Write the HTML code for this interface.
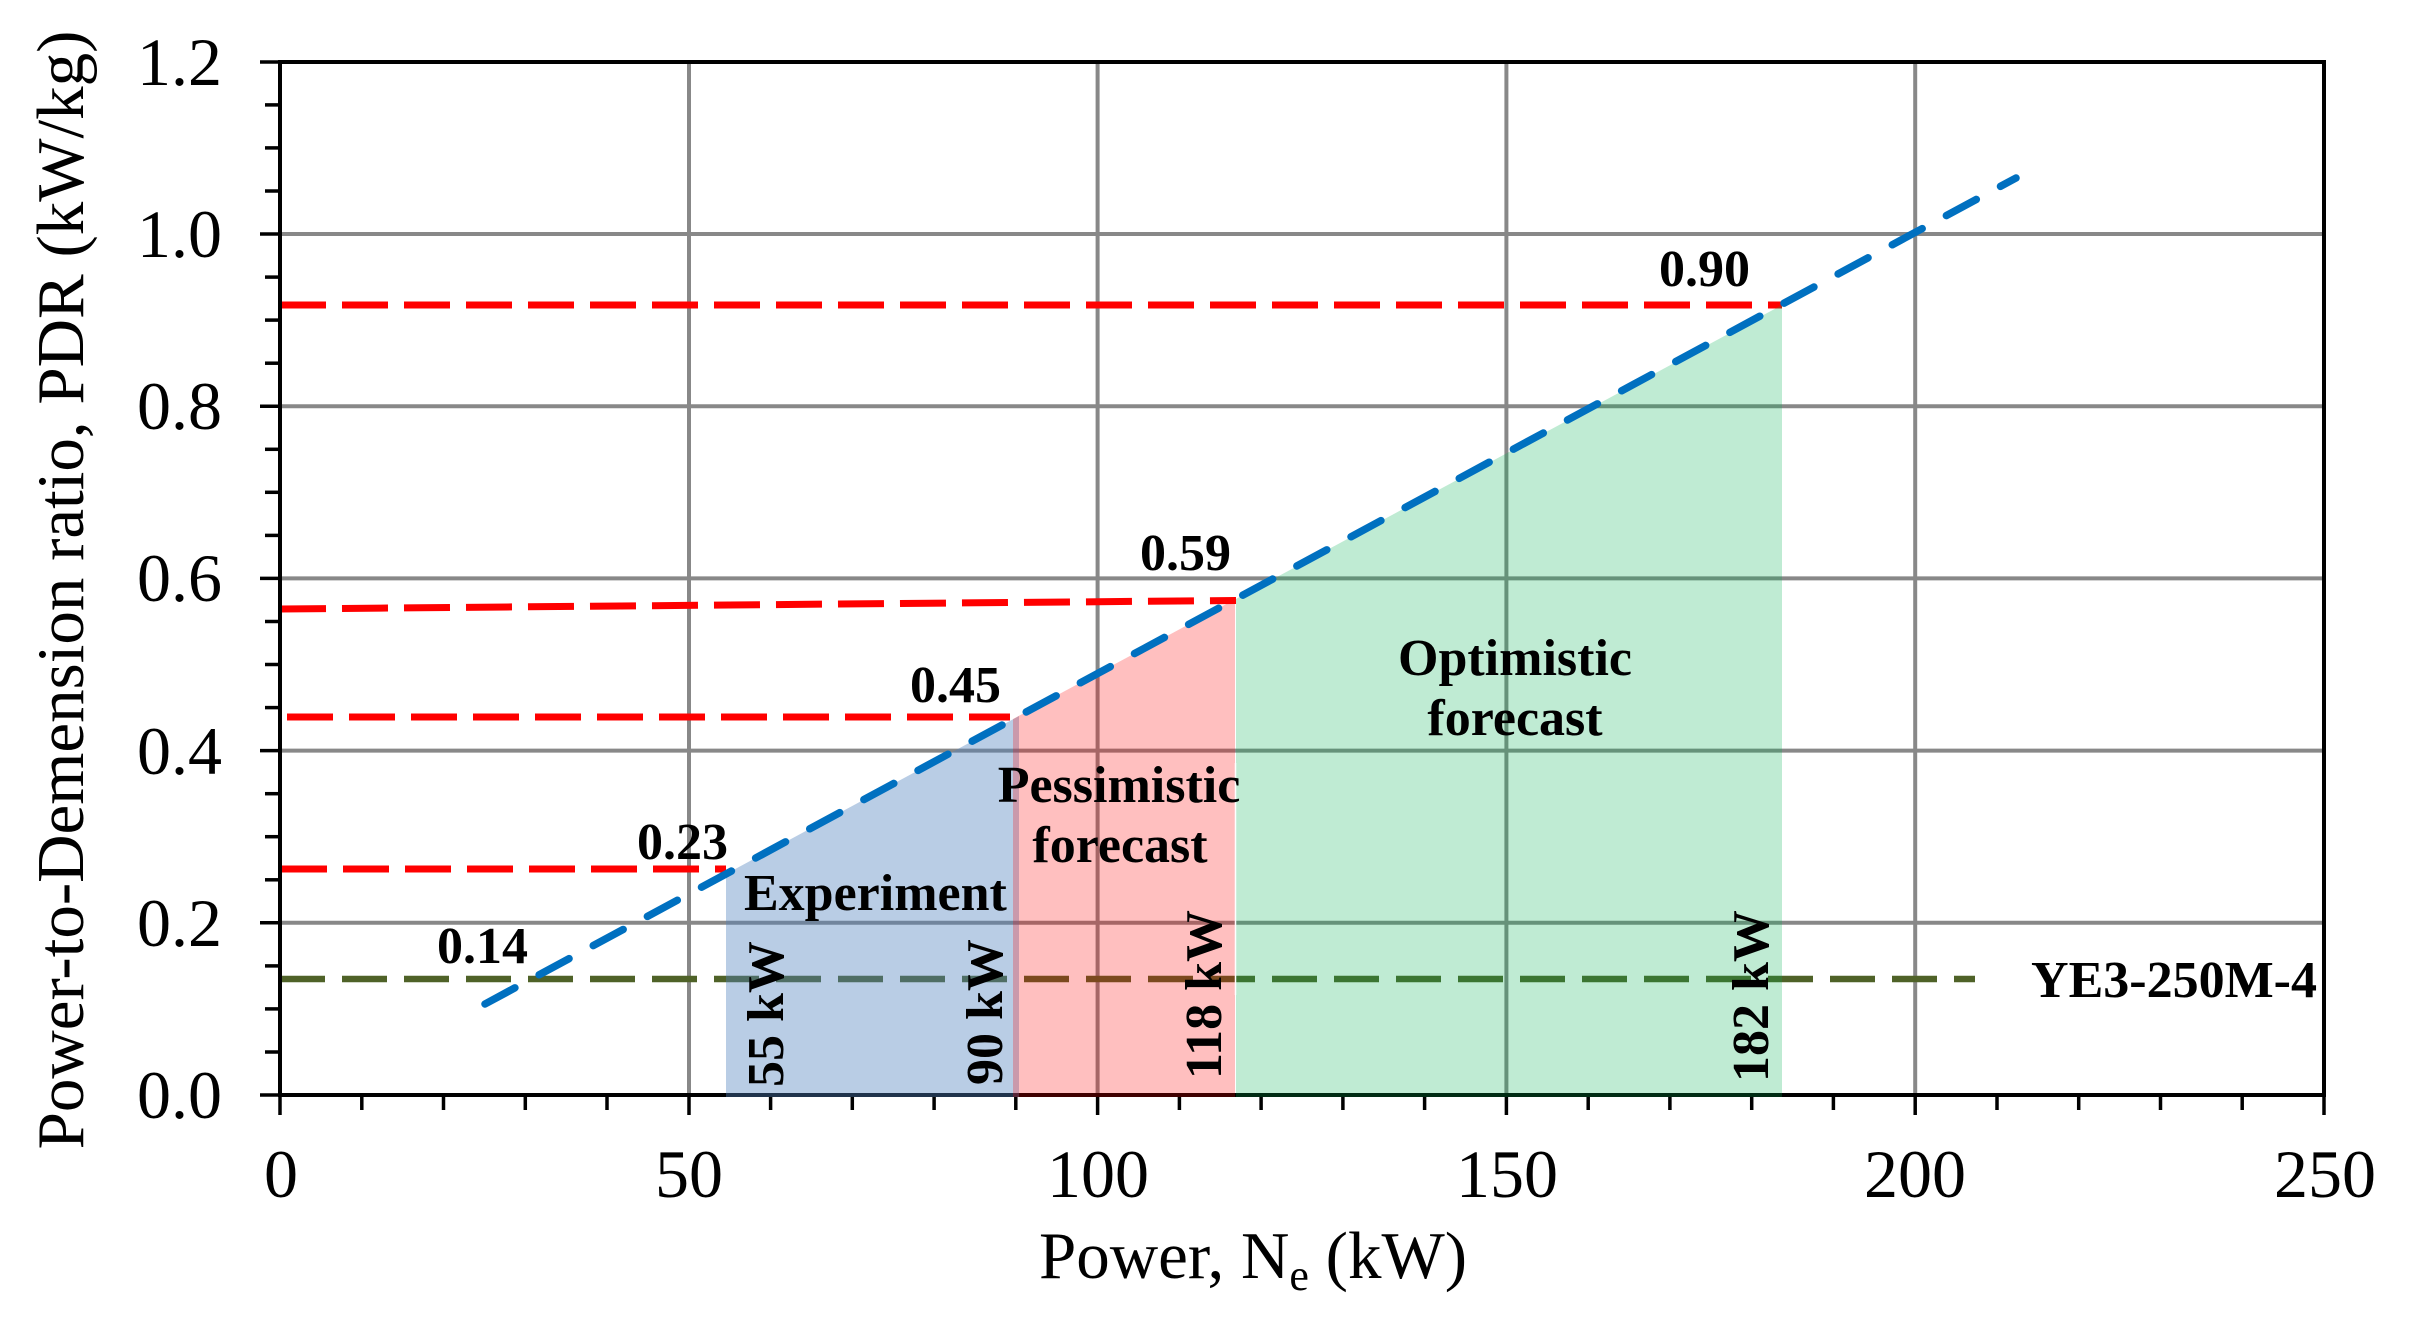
<!DOCTYPE html>
<html>
<head>
<meta charset="utf-8">
<style>
  html, body { margin: 0; padding: 0; background: #ffffff; }
  svg { display: block; }
  .tick { font-family: "Liberation Serif", "Times New Roman", serif; font-size: 68px; fill: #000; }
  .ann { font-family: "Liberation Serif", "Times New Roman", serif; font-size: 52px; font-weight: bold; fill: #000; }
  .title { font-family: "Liberation Serif", "Times New Roman", serif; font-size: 67px; fill: #000; }
</style>
</head>
<body>
<svg width="2411" height="1323" viewBox="0 0 2411 1323" xmlns="http://www.w3.org/2000/svg">
  <rect x="0" y="0" width="2411" height="1323" fill="#ffffff"/>

  <!-- gridlines -->
  <g stroke="#888888" stroke-width="4">
    <line x1="689" y1="62" x2="689" y2="1095"/>
    <line x1="1097.6" y1="62" x2="1097.6" y2="1095"/>
    <line x1="1506.4" y1="62" x2="1506.4" y2="1095"/>
    <line x1="1915.2" y1="62" x2="1915.2" y2="1095"/>
    <line x1="280" y1="922.8" x2="2324" y2="922.8"/>
    <line x1="280" y1="750.6" x2="2324" y2="750.6"/>
    <line x1="280" y1="578.4" x2="2324" y2="578.4"/>
    <line x1="280" y1="406.2" x2="2324" y2="406.2"/>
    <line x1="280" y1="234" x2="2324" y2="234"/>
  </g>

  <!-- red dashed reference lines -->
  <g stroke="#FF0000" stroke-width="7" stroke-dasharray="46 16" fill="none">
    <line x1="280" y1="305" x2="1782" y2="305"/>
    <line x1="280" y1="609" x2="1236" y2="600.5"/>
    <line x1="287" y1="717" x2="1010" y2="717"/>
    <line x1="281" y1="869" x2="726" y2="869"/>
  </g>

  <!-- olive dashed line YE3-250M-4 -->
  <line x1="280" y1="979" x2="1975" y2="979" stroke="#4F6228" stroke-width="6.5" stroke-dasharray="45 17"/>

  <!-- axes frame -->
  <rect x="280" y="62" width="2044" height="1033" fill="none" stroke="#000" stroke-width="4"/>

  <!-- y ticks -->
  <g stroke="#000" stroke-width="3.5">
    <line x1="260" y1="1095" x2="280" y2="1095"/>
    <line x1="265" y1="1052" x2="280" y2="1052"/>
    <line x1="265" y1="1008.9" x2="280" y2="1008.9"/>
    <line x1="265" y1="965.9" x2="280" y2="965.9"/>
    <line x1="260" y1="922.8" x2="280" y2="922.8"/>
    <line x1="265" y1="879.8" x2="280" y2="879.8"/>
    <line x1="265" y1="836.7" x2="280" y2="836.7"/>
    <line x1="265" y1="793.7" x2="280" y2="793.7"/>
    <line x1="260" y1="750.6" x2="280" y2="750.6"/>
    <line x1="265" y1="707.6" x2="280" y2="707.6"/>
    <line x1="265" y1="664.5" x2="280" y2="664.5"/>
    <line x1="265" y1="621.5" x2="280" y2="621.5"/>
    <line x1="260" y1="578.4" x2="280" y2="578.4"/>
    <line x1="265" y1="535.4" x2="280" y2="535.4"/>
    <line x1="265" y1="492.3" x2="280" y2="492.3"/>
    <line x1="265" y1="449.3" x2="280" y2="449.3"/>
    <line x1="260" y1="406.2" x2="280" y2="406.2"/>
    <line x1="265" y1="363.2" x2="280" y2="363.2"/>
    <line x1="265" y1="320.1" x2="280" y2="320.1"/>
    <line x1="265" y1="277.1" x2="280" y2="277.1"/>
    <line x1="260" y1="234" x2="280" y2="234"/>
    <line x1="265" y1="191" x2="280" y2="191"/>
    <line x1="265" y1="147.9" x2="280" y2="147.9"/>
    <line x1="265" y1="104.9" x2="280" y2="104.9"/>
    <line x1="260" y1="62" x2="280" y2="62"/>
  </g>

  <!-- x ticks -->
  <g stroke="#000" stroke-width="3.5">
    <line x1="280" y1="1095" x2="280" y2="1115"/>
    <line x1="361.8" y1="1095" x2="361.8" y2="1110"/>
    <line x1="443.5" y1="1095" x2="443.5" y2="1110"/>
    <line x1="525.3" y1="1095" x2="525.3" y2="1110"/>
    <line x1="607" y1="1095" x2="607" y2="1110"/>
    <line x1="689" y1="1095" x2="689" y2="1115"/>
    <line x1="770.6" y1="1095" x2="770.6" y2="1110"/>
    <line x1="852.3" y1="1095" x2="852.3" y2="1110"/>
    <line x1="934.1" y1="1095" x2="934.1" y2="1110"/>
    <line x1="1015.8" y1="1095" x2="1015.8" y2="1110"/>
    <line x1="1097.6" y1="1095" x2="1097.6" y2="1115"/>
    <line x1="1179.4" y1="1095" x2="1179.4" y2="1110"/>
    <line x1="1261.1" y1="1095" x2="1261.1" y2="1110"/>
    <line x1="1342.9" y1="1095" x2="1342.9" y2="1110"/>
    <line x1="1424.6" y1="1095" x2="1424.6" y2="1110"/>
    <line x1="1506.4" y1="1095" x2="1506.4" y2="1115"/>
    <line x1="1588.2" y1="1095" x2="1588.2" y2="1110"/>
    <line x1="1669.9" y1="1095" x2="1669.9" y2="1110"/>
    <line x1="1751.7" y1="1095" x2="1751.7" y2="1110"/>
    <line x1="1833.4" y1="1095" x2="1833.4" y2="1110"/>
    <line x1="1915.2" y1="1095" x2="1915.2" y2="1115"/>
    <line x1="1997" y1="1095" x2="1997" y2="1110"/>
    <line x1="2078.7" y1="1095" x2="2078.7" y2="1110"/>
    <line x1="2160.5" y1="1095" x2="2160.5" y2="1110"/>
    <line x1="2242.2" y1="1095" x2="2242.2" y2="1110"/>
    <line x1="2324" y1="1095" x2="2324" y2="1115"/>
  </g>

  <!-- shaded regions (semi-transparent overlays) -->
  <polygon points="726,1097 726,874 1019,716 1019,1097" fill="rgb(79,129,189)" fill-opacity="0.4"/>
  <polygon points="1013,1097 1013,719 1235,599.4 1235,1097" fill="rgb(255,0,0)" fill-opacity="0.25"/>
  <polygon points="1236,1097 1236,599 1782,305 1782,1097" fill="rgb(0,176,80)" fill-opacity="0.25"/>
  <line x1="1235.5" y1="763" x2="1235.5" y2="995" stroke="#ffffff" stroke-width="1.5"/>

  <!-- blue trend line -->
  <line x1="485" y1="1004" x2="2016" y2="178" stroke="#0070C0" stroke-width="7.5" stroke-linecap="round" stroke-dasharray="34 27.5"/>

  <!-- y tick labels -->
  <g class="tick" text-anchor="end">
    <text x="222" y="1118">0.0</text>
    <text x="222" y="946">0.2</text>
    <text x="222" y="774">0.4</text>
    <text x="222" y="601">0.6</text>
    <text x="222" y="429">0.8</text>
    <text x="222" y="257">1.0</text>
    <text x="222" y="85">1.2</text>
  </g>

  <!-- x tick labels -->
  <g class="tick" text-anchor="middle">
    <text x="281" y="1197">0</text>
    <text x="689" y="1197">50</text>
    <text x="1098" y="1197">100</text>
    <text x="1507" y="1197">150</text>
    <text x="1915" y="1197">200</text>
    <text x="2325" y="1197">250</text>
  </g>

  <!-- axis titles -->
  <text class="title" x="1253" y="1278" text-anchor="middle">Power, N<tspan font-size="44" dy="12">e</tspan><tspan dy="-12"> (kW)</tspan></text>
  <text class="title" x="83" y="590" text-anchor="middle" transform="rotate(-90 83 590)">Power-to-Demension ratio, PDR (kW/kg)</text>

  <!-- value annotations -->
  <g class="ann">
    <text x="437" y="963">0.14</text>
    <text x="637" y="859">0.23</text>
    <text x="910" y="702">0.45</text>
    <text x="1140" y="570">0.59</text>
    <text x="1659" y="286">0.90</text>
    <text x="744" y="910">Experiment</text>
    <text x="1119" y="802" text-anchor="middle">Pessimistic</text>
    <text x="1120" y="862" text-anchor="middle">forecast</text>
    <text x="1515" y="675" text-anchor="middle">Optimistic</text>
    <text x="1515" y="735" text-anchor="middle">forecast</text>
    <text x="2317" y="997" text-anchor="end">YE3-250M-4</text>
    <text x="783" y="1087" transform="rotate(-90 783 1087)">55 kW</text>
    <text x="1002" y="1085" transform="rotate(-90 1002 1085)">90 kW</text>
    <text x="1221" y="1079" transform="rotate(-90 1221 1079)">118 kW</text>
    <text x="1768" y="1082" transform="rotate(-90 1768 1082)">182 kW</text>
  </g>
</svg>
</body>
</html>
